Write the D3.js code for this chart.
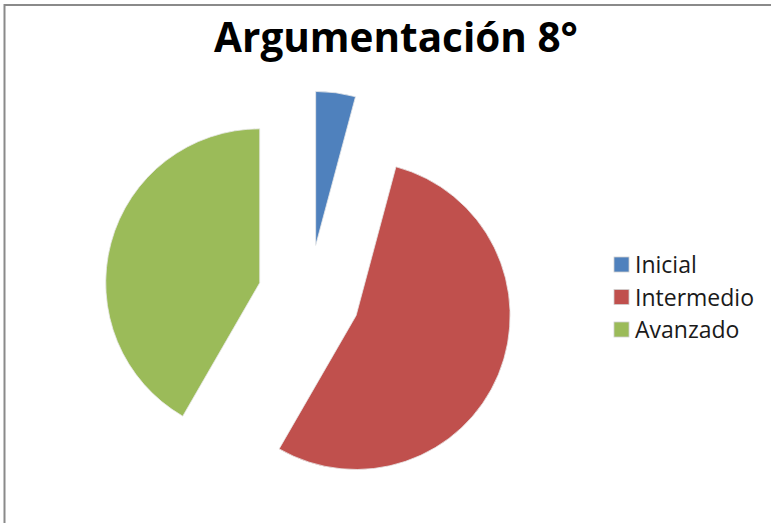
<!DOCTYPE html>
<html>
<head>
<meta charset="utf-8">
<script src="https://cdn.jsdelivr.net/npm/d3@7"></script>
<style>
  html, body { margin: 0; padding: 0; background: #fff; }
  svg { display: block; }
</style>
</head>
<body>
<svg id="chart" width="771" height="523"></svg>
<script>
// Student counts per argumentation level
const categories = ["Inicial", "Intermedio", "Avanzado"];
const values = [1, 13, 10];
const colors = ["#4F81BD", "#C0504D", "#9BBB59"];
const title = "Argumentación 8°";

const svg = d3.select("#chart");

// Chart area frame (right/bottom edges fall outside the view)
svg.append("rect")
  .attr("x", 4.5).attr("y", 5)
  .attr("width", 800).attr("height", 600)
  .attr("fill", "#fff")
  .attr("stroke", "#8a8a8a")
  .attr("stroke-width", 2);

// Title, fitted to its intended width
const titleText = svg.append("text")
  .attr("x", 396).attr("y", 52)
  .attr("text-anchor", "middle")
  .attr("font-family", "'Open Sans', sans-serif")
  .attr("font-weight", "bold")
  .attr("font-size", 36)
  .attr("fill", "#000")
  .text(title);
const tw = titleText.node().getComputedTextLength();
titleText.attr("font-size", 36 * 364 / tw);

// Exploded pie
const cx = 309, cy = 296, radius = 154, explode = 51;
const pie = d3.pie().sort(null).value(d => d.value);
const arc = d3.arc().innerRadius(0).outerRadius(radius);
const data = categories.map((c, i) => ({ name: c, value: values[i], color: colors[i] }));

const g = svg.append("g").attr("transform", `translate(${cx},${cy})`);
g.selectAll("path")
  .data(pie(data))
  .join("path")
  .attr("transform", d => {
    const mid = (d.startAngle + d.endAngle) / 2;
    return `translate(${explode * Math.sin(mid)},${-explode * Math.cos(mid)})`;
  })
  .attr("d", arc)
  .attr("fill", d => d.data.color)
  .attr("stroke", "#e8e8e8")
  .attr("stroke-width", 0.8);

// Legend
const legend = svg.append("g").attr("transform", "translate(614,257)");
const items = legend.selectAll("g")
  .data(data)
  .join("g")
  .attr("transform", (d, i) => `translate(0,${i * 32.5})`);
items.append("rect")
  .attr("width", 15).attr("height", 15)
  .attr("fill", d => d.color)
  .attr("stroke", "#d0d0d0")
  .attr("stroke-width", 0.8);
items.append("text")
  .attr("x", 21).attr("y", 16)
  .attr("font-family", "'Open Sans', sans-serif")
  .attr("font-size", 23)
  .attr("fill", "#1a1a1a")
  .text(d => d.name);
</script>
</body>
</html>
